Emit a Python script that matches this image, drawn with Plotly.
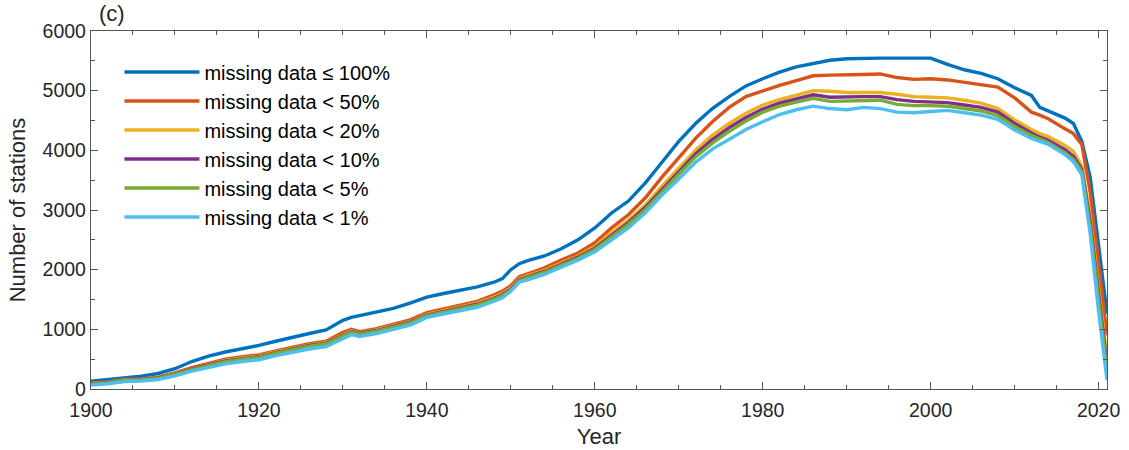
import plotly.graph_objects as go

years = [1900, 1902, 1904, 1906, 1908, 1910, 1912, 1914, 1916, 1918,
         1920, 1922, 1924, 1926, 1928, 1930, 1931, 1932, 1934, 1936,
         1938, 1940, 1942, 1944, 1946, 1948, 1949, 1950, 1951, 1952,
         1954, 1956, 1958, 1960, 1962, 1964, 1966, 1968, 1970, 1972,
         1974, 1976, 1978, 1980, 1982, 1984, 1986, 1988, 1990, 1992,
         1994, 1996, 1998, 2000, 2002, 2004, 2006, 2008, 2010, 2012,
         2013, 2014, 2016, 2017, 2018, 2019, 2020, 2021]

miss_100 = [130, 160, 195, 215, 260, 340, 460, 550, 620, 670,
            730, 800, 870, 930, 990, 1150, 1200, 1230, 1280, 1350,
            1440, 1540, 1600, 1660, 1710, 1790, 1850, 2000, 2100, 2150,
            2230, 2350, 2500, 2700, 2950, 3150, 3450, 3800, 4150, 4450,
            4700, 4900, 5080, 5200, 5310, 5400, 5460, 5510, 5535, 5545,
            5545, 5545, 5545, 5545, 5440, 5350, 5290, 5200, 5050, 4920,
            4720, 4660, 4540, 4450, 4150, 3550, 2400, 1260]

miss_50 = [100, 120, 160, 170, 200, 270, 360, 430, 500, 540,
           570, 640, 700, 760, 800, 950, 1000, 960, 1010, 1080,
           1160, 1280, 1340, 1400, 1470, 1580, 1640, 1730, 1880, 1930,
           2030, 2160, 2280, 2450, 2700, 2920, 3200, 3550, 3880, 4200,
           4480, 4720, 4900, 5000, 5090, 5170, 5250, 5260, 5260, 5270,
           5280, 5220, 5190, 5200, 5180, 5140, 5110, 5060, 4880, 4640,
           4590, 4530, 4360, 4280, 4100, 3300, 2100, 900]

miss_20 = [90, 110, 150, 160, 190, 255, 340, 410, 480, 520,
           550, 620, 680, 740, 780, 920, 975, 940, 990, 1060,
           1130, 1250, 1310, 1370, 1440, 1540, 1600, 1690, 1850, 1900,
           1990, 2110, 2230, 2390, 2620, 2830, 3080, 3400, 3700, 4000,
           4250, 4450, 4620, 4760, 4850, 4920, 5000, 4990, 4970, 4970,
           4970, 4940, 4900, 4890, 4880, 4840, 4790, 4700, 4510, 4350,
           4280, 4230, 4080, 3980, 3730, 2900, 1700, 500]

miss_10 = [85, 105, 145, 155, 185, 250, 335, 400, 470, 510,
           540, 610, 670, 730, 770, 910, 965, 930, 980, 1050,
           1120, 1240, 1300, 1355, 1420, 1520, 1580, 1670, 1830, 1880,
           1970, 2090, 2210, 2360, 2580, 2790, 3040, 3350, 3640, 3940,
           4180, 4380, 4550, 4690, 4790, 4860, 4930, 4890, 4900, 4900,
           4900, 4850, 4820, 4810, 4800, 4760, 4720, 4640, 4450, 4290,
           4220, 4170, 4010, 3900, 3680, 2800, 1600, 400]

miss_5 = [80, 100, 140, 150, 178, 243, 326, 390, 460, 500,
          530, 600, 660, 718, 758, 898, 953, 918, 968, 1038,
          1108, 1228, 1288, 1340, 1405, 1505, 1565, 1658, 1815, 1865,
          1955, 2072, 2192, 2340, 2550, 2760, 3005, 3310, 3600, 3890,
          4120, 4320, 4490, 4640, 4740, 4810, 4870, 4820, 4830, 4840,
          4840, 4770, 4750, 4750, 4740, 4700, 4660, 4580, 4400, 4250,
          4190, 4130, 3960, 3850, 3650, 2700, 1500, 300]

miss_1 = [65, 85, 125, 135, 160, 220, 300, 360, 420, 460,
          490, 560, 620, 670, 710, 850, 910, 880, 930, 1000,
          1070, 1200, 1260, 1310, 1370, 1470, 1530, 1640, 1790, 1830,
          1920, 2040, 2160, 2300, 2500, 2700, 2950, 3250, 3520, 3800,
          4020, 4190, 4350, 4480, 4600, 4680, 4740, 4700, 4680, 4720,
          4700, 4640, 4630, 4650, 4670, 4630, 4590, 4520, 4340, 4200,
          4150, 4100, 3930, 3810, 3590, 2600, 1300, 150]

series = [
    ("missing data \u2264 100%", miss_100, "#0072BD"),
    ("missing data < 50%", miss_50, "#D95319"),
    ("missing data < 20%", miss_20, "#EDB120"),
    ("missing data < 10%", miss_10, "#7E2F8E"),
    ("missing data < 5%", miss_5, "#77AC30"),
    ("missing data < 1%", miss_1, "#4DBEEE"),
]

FONT = "Liberation Sans, Arial, sans-serif"
AXC = "#262626"
LC = "#555555"

fig = go.Figure()
for name, vals, col in series:
    fig.add_trace(go.Scatter(x=years, y=vals, mode="lines", name=name,
                             line=dict(color=col, width=3.4)))

axis_common = dict(
    showline=True, linecolor=LC, linewidth=1.3, mirror="ticks",
    ticks="inside", ticklen=7, tickwidth=1.3, tickcolor=LC,
    showgrid=False, zeroline=False, automargin=False,
    tickfont=dict(family=FONT, size=19.5, color=AXC),
)

fig.update_xaxes(range=[1900, 2021], dtick=20, tick0=1900,
                 minor=dict(ticks="inside", dtick=5, ticklen=4, tickcolor=LC, tickwidth=1.3),
                 ticklabelstandoff=3,
                 title=dict(text="Year", font=dict(family=FONT, size=22, color=AXC), standoff=9),
                 **axis_common)
fig.update_yaxes(range=[0, 6000], dtick=1000, tick0=0,
                 minor=dict(ticks="inside", dtick=500, ticklen=4, tickcolor=LC, tickwidth=1.3),
                 title=dict(text="Number of stations", font=dict(family=FONT, size=22, color=AXC), standoff=10),
                 **axis_common)

fig.add_annotation(text="(c)", xref="paper", yref="paper", x=0.006, y=1.0,
                   xanchor="left", yanchor="bottom", showarrow=False,
                   font=dict(family=FONT, size=22, color=AXC), yshift=3)

fig.update_layout(
    width=1129, height=450,
    margin=dict(l=91, r=22, t=31, b=61),
    paper_bgcolor="white", plot_bgcolor="white",
    showlegend=True,
    legend=dict(x=0.028, y=0.94, xanchor="left", yanchor="top",
                bgcolor="rgba(255,255,255,0)", borderwidth=0,
                font=dict(family=FONT, size=20, color="black"),
                itemwidth=75, tracegroupgap=0),
)

fig.write_html("out.html")
